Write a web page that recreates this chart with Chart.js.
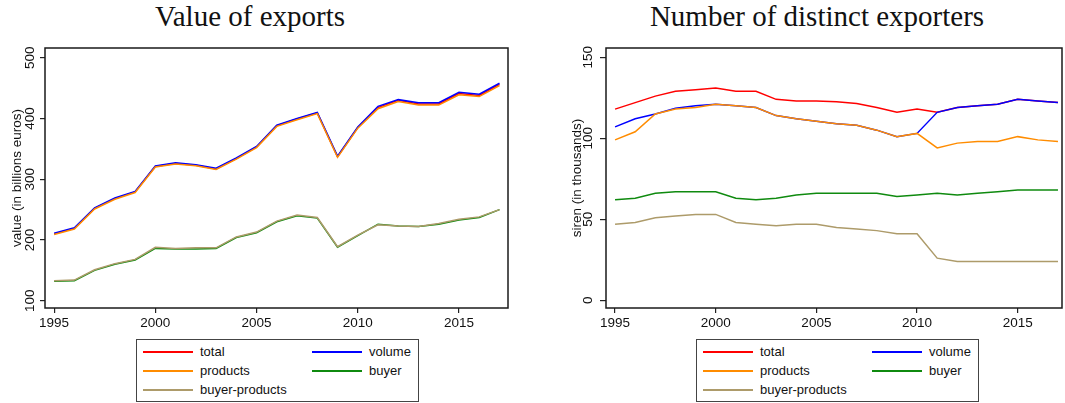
<!DOCTYPE html>
<html>
<head>
<meta charset="utf-8">
<script src="https://cdn.jsdelivr.net/npm/chart.js@4/dist/chart.umd.min.js"></script>
<style>
  html, body { margin: 0; padding: 0; background: #fff; }
  body { position: relative; width: 1065px; height: 403px; overflow: hidden;
         font-family: 'Liberation Sans', Arial, sans-serif; }
  .title { position: absolute; top: 2px; width: 600px; text-align: center;
           font-family: 'Liberation Serif', 'Times New Roman', serif;
           font-size: 29px; line-height: 29px; color: #111; white-space: nowrap; }
  canvas { position: absolute; top: 0; }
  .legend { position: absolute; top: 339px; height: 63px; width: 283px;
            border: 1px solid #444; box-sizing: border-box; background: #fff; }
  .legend .swatch { position: absolute; width: 50px; height: 2px; }
  .legend .label { position: absolute; font-size: 13px; line-height: 16px; color: #111; white-space: nowrap; }
</style>
</head>
<body>
<div class="title" id="titleLeft" style="left:-50px">Value of exports</div>
<div class="title" id="titleRight" style="left:517px">Number of distinct exporters</div>
<canvas id="exportsChart" width="540" height="403" style="left:0"></canvas>
<canvas id="firmsChart" width="525" height="403" style="left:540px"></canvas>
<div class="legend" id="legendLeft" style="left:136px"></div>
<div class="legend" id="legendRight" style="left:696px"></div>

<script>
// Years on the horizontal axis
const years = [1995, 1996, 1997, 1998, 1999, 2000, 2001, 2002, 2003, 2004, 2005, 2006,
               2007, 2008, 2009, 2010, 2011, 2012, 2013, 2014, 2015, 2016, 2017];

// Series names (legend order)
const seriesNames = ['total', 'volume', 'products', 'buyer', 'buyer-products'];

// Value of exports, billions of euros
const exportsTotal         = [210, 219, 252, 268, 279, 321, 326, 323, 317, 334, 353, 388, 399, 409, 337, 385, 418, 430, 424, 424, 441, 438, 456];
const exportsVolume        = [211, 220, 253, 269, 280, 322, 327, 324, 318, 335, 354, 389, 400, 410, 338, 386, 420, 431, 426, 426, 443, 440, 458];
const exportsProducts      = [209, 218, 251, 267, 278, 320, 325, 322, 316, 333, 352, 387, 398, 408, 336, 384, 416, 428, 422, 422, 439, 436, 454];
const exportsBuyer         = [132, 133, 150, 160, 167, 186, 185, 185, 186, 204, 212, 230, 240, 236, 188, 207, 226, 223, 222, 226, 233, 237, 250];
const exportsBuyerProducts = [133, 134, 151, 161, 168, 188, 186, 187, 187, 205, 213, 231, 241, 237, 189, 208, 225, 223, 222, 227, 234, 238, 250];

// Number of distinct exporters (siren), thousands
const firmsTotal         = [118, 122, 126, 129, 130, 131, 129, 129, 124, 123, 123, 122.5, 121.5, 119, 116, 118, 116, 119, 120, 121, 124, 123, 122];
const firmsVolume        = [107, 112, 115, 118.5, 120, 121, 120, 119, 114, 112, 110.5, 109, 108, 105, 101, 103, 116, 119, 120, 121, 124, 123, 122];
const firmsProducts      = [99, 104, 115, 118, 119, 121, 120, 119, 114, 112, 110.5, 109, 108, 105, 101, 103, 94, 97, 98, 98, 101, 99, 98];
const firmsBuyer         = [62, 63, 66, 67, 67, 67, 63, 62, 63, 65, 66, 66, 66, 66, 64, 65, 66, 65, 66, 67, 68, 68, 68];
const firmsBuyerProducts = [47, 48, 51, 52, 53, 53, 48, 47, 46, 47, 47, 45, 44, 43, 41, 41, 26, 24, 24, 24, 24, 24, 24];

// Tick labels
const yearTicks    = [1995, 2000, 2005, 2010, 2015];
const exportsTicks = [100, 200, 300, 400, 500];
const firmsTicks   = [0, 50, 100, 150];

// Styling
const palette = ['#ff0000', '#0000ff', '#ff8c00', '#0f8a0f', '#ad9b6a'];
const sansFamily = "'Liberation Sans', Arial, sans-serif";
const inkColor = '#111';

// Outline around the plot region
const plotFrame = {
  id: 'plotFrame',
  afterDatasetsDraw(chart) {
    const { ctx, chartArea: a } = chart;
    ctx.save();
    ctx.strokeStyle = '#1a1a1a';
    ctx.lineWidth = 1.5;
    ctx.strokeRect(a.left, a.top, a.right - a.left, a.bottom - a.top);
    ctx.restore();
  }
};

function toPoints(values) {
  return values.map((v, i) => ({ x: years[i], y: v }));
}

function buildChart(canvasId, seriesList, cfg) {
  const datasets = seriesList.map((values, i) => ({
    label: seriesNames[i],
    data: toPoints(values),
    borderColor: palette[i],
    backgroundColor: palette[i],
    borderWidth: 1.5,
    pointRadius: 0,
    tension: 0,
    fill: false,
    order: seriesList.length - i
  }));

  const tickGrid = { display: true, drawOnChartArea: false, drawTicks: true,
                     tickLength: cfg.tickLength, color: '#222', lineWidth: 1.2 };

  return new Chart(document.getElementById(canvasId), {
    type: 'line',
    data: { datasets },
    options: {
      responsive: false,
      animation: false,
      devicePixelRatio: 1,
      layout: { padding: cfg.padding },
      plugins: { legend: { display: false }, tooltip: { enabled: false }, title: { display: false } },
      scales: {
        x: {
          type: 'linear',
          min: 1994.55,
          max: cfg.xMax,
          afterBuildTicks: ax => { ax.ticks = yearTicks.map(v => ({ value: v })); },
          afterFit: ax => { ax.height = 30; },
          grid: Object.assign({}, tickGrid, { tickLength: 5 }),
          border: { display: false },
          ticks: { autoSkip: false, maxRotation: 0, padding: 2, color: inkColor,
                   font: { family: sansFamily, size: 13.5 }, callback: v => String(v) }
        },
        y: {
          type: 'linear',
          min: cfg.yMin,
          max: cfg.yMax,
          afterBuildTicks: ax => { ax.ticks = cfg.yTicks.map(v => ({ value: v })); },
          afterFit: ax => { ax.width = cfg.yWidth; },
          grid: tickGrid,
          border: { display: false },
          ticks: { autoSkip: false, minRotation: 90, maxRotation: 90, crossAlign: 'center',
                   padding: cfg.tickPadding, color: inkColor,
                   font: { family: sansFamily, size: 13.5 }, callback: v => String(v) },
          title: { display: true, text: cfg.yTitle, color: inkColor,
                   font: { family: sansFamily, size: 13.5 }, padding: { top: 9, bottom: 0 } }
        }
      }
    },
    plugins: [plotFrame]
  });
}

function buildLegend(elId) {
  const box = document.getElementById(elId);
  const rowCenters = [12, 31, 50];
  const swatchX = [6, 175];
  const labelX = [63, 232];
  seriesNames.forEach((name, i) => {
    const col = i % 2, row = Math.floor(i / 2);
    const sw = document.createElement('div');
    sw.className = 'swatch';
    sw.style.left = swatchX[col] + 'px';
    sw.style.top = (rowCenters[row] - 1) + 'px';
    sw.style.background = palette[i];
    box.appendChild(sw);
    const lb = document.createElement('div');
    lb.className = 'label';
    lb.style.left = labelX[col] + 'px';
    lb.style.top = (rowCenters[row] - 8) + 'px';
    lb.textContent = name;
    box.appendChild(lb);
  });
}

buildChart('exportsChart',
  [exportsTotal, exportsVolume, exportsProducts, exportsBuyer, exportsBuyerProducts],
  { padding: { left: 0, right: 32, top: 48, bottom: 65 }, yWidth: 45, tickLength: 5, tickPadding: -2,
    yMin: 88, yMax: 516, yTicks: exportsTicks, xMax: 2017.42, yTitle: 'value (in billions euros)' });

buildChart('firmsChart',
  [firmsTotal, firmsVolume, firmsProducts, firmsBuyer, firmsBuyerProducts],
  { padding: { left: 20, right: 3, top: 48, bottom: 65 }, yWidth: 46, tickLength: 6, tickPadding: 0,
    yMin: -4.75, yMax: 155.7, yTicks: firmsTicks, xMax: 2017.2, yTitle: 'siren (in thousands)' });

buildLegend('legendLeft');
buildLegend('legendRight');
</script>
</body>
</html>
